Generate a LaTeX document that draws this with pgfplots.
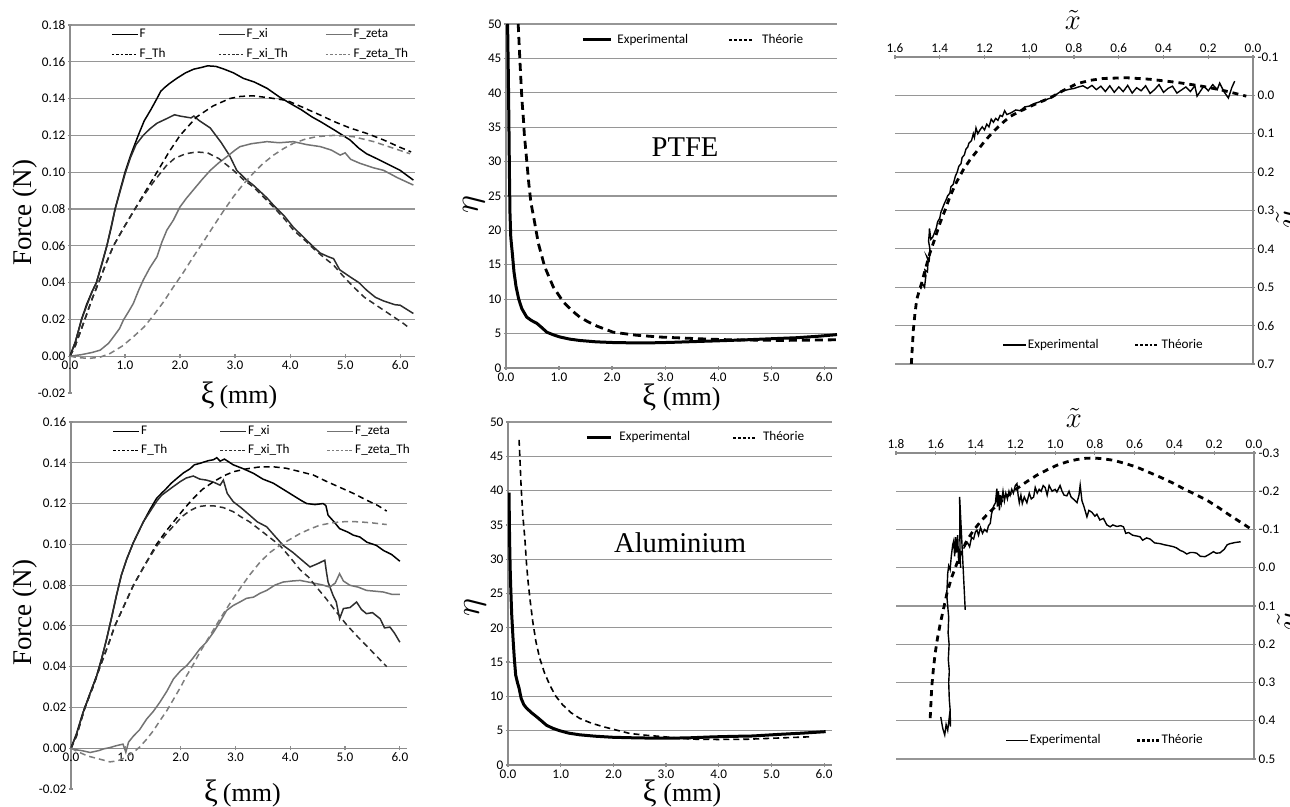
\documentclass[border=0pt]{standalone}
\usepackage{pgfplots}
\pgfplotsset{compat=1.18}
\usepackage{fontspec}
\setmainfont{Liberation Serif}
\newfontfamily\carlito{Carlito}
\newcommand\tickfont{\carlito\fontsize{6.6}{7.5}\selectfont}
\definecolor{axisgray}{RGB}{140,140,140}
\definecolor{gridgray}{RGB}{150,150,150}
\definecolor{xigray}{RGB}{45,45,45}
\definecolor{zetagray}{RGB}{115,115,115}
\definecolor{zetathgray}{RGB}{125,125,125}

\pgfplotsset{
  excel/.style={
    scale only axis, anchor=south west,
    axis line style={-, draw=axisgray, line width=0.6pt},
    ymajorgrids, grid style={draw=gridgray, line width=0.55pt},
    tick style={draw=axisgray, line width=0.6pt},
    major tick length=2.2pt, tick align=outside,
    ticklabel style={font=\tickfont, text=black, inner sep=1pt},
    /pgf/number format/assume math mode=true,
    hide obscured x ticks=false, hide obscured y ticks=false,
    legend style={draw=none, fill=none, font=\tickfont, inner sep=0pt, nodes={inner sep=0.5pt}},
    legend cell align=left,
    label style={font=\fontsize{13.5}{14}\selectfont},
  },
  noarrows/.style={
    every inner x axis line/.append style={-}, every outer x axis line/.append style={-},
    every inner y axis line/.append style={-}, every outer y axis line/.append style={-},
  },
  fmtx/.style={xticklabel style={/pgf/number format/fixed, /pgf/number format/fixed zerofill, /pgf/number format/precision=#1}},
  fmty/.style={yticklabel style={/pgf/number format/fixed, /pgf/number format/fixed zerofill, /pgf/number format/precision=#1}},
  leg/.style={legend image code/.code={\draw[##1] (0pt,0pt) -- (#1,0pt);}},
  dotleg/.style 2 args={legend image code/.code={\draw[##1,dash pattern=#2] (0pt,0pt) -- (#1,0pt);}},
}
\newcommand\ximm{{\fontsize{15.5}{15}\selectfont ξ}~{\fontsize{13}{13}\selectfont(mm)}}

\begin{document}
\begin{tikzpicture}
\useasboundingbox (0pt,0pt) rectangle (645pt,403.5pt);

% ---------------- top left: forces, PTFE
\begin{axis}[excel, at={(35pt,207pt)}, width=172.5pt, height=184pt,
  xmin=0, xmax=6.27, ymin=-0.02, ymax=0.18,
  axis x line=middle, axis y line=left, noarrows,
  xtick={0,1,2,3,4,5,6}, ytick={0,0.02,0.04,0.06,0.08,0.10,0.12,0.14,0.16,0.18},
  extra y ticks={-0.02}, extra y tick labels={-0.02}, extra y tick style={grid=none},
  fmtx=1, fmty=2,
  xlabel={\ximm}, ylabel={Force (N)},
  xlabel style={at={(axis description cs:0.49,-0.008)}, anchor=center},
  ylabel style={at={(axis description cs:-0.13,0.49)}, anchor=center},
  legend columns=3, legend style={at={(axis description cs:0.118,0.995)}, anchor=north west, row sep=3pt},
]
\addplot[black, line width=0.75pt, leg=13pt] coordinates {
(0,0) (0.1,0.008) (0.21,0.020) (0.3,0.028) (0.4,0.035) (0.48,0.040) (0.58,0.050) (0.67,0.060)
(0.75,0.070) (0.82,0.080) (0.9,0.089) (1.0,0.100) (1.1,0.109) (1.24,0.120) (1.35,0.128) (1.47,0.134)
(1.58,0.140) (1.65,0.144) (1.72,0.146) (1.8,0.148) (1.94,0.151) (2.1,0.154) (2.25,0.156) (2.4,0.157)
(2.5,0.1578) (2.65,0.1575) (2.8,0.156) (2.97,0.154) (3.15,0.151) (3.35,0.149) (3.58,0.1456) (3.8,0.141)
(4.0,0.1374) (4.2,0.134) (4.4,0.130) (4.55,0.1275) (4.8,0.123) (5.09,0.1175) (5.25,0.113) (5.39,0.110)
(5.6,0.107) (5.8,0.104) (6.0,0.101) (6.24,0.0957)};
\addlegendentry{\makebox[38.75pt][l]{F}}
\addplot[xigray, line width=0.75pt, leg=13pt] coordinates {
(0,0) (0.1,0.008) (0.21,0.020) (0.4,0.035) (0.48,0.040) (0.67,0.060) (0.82,0.080) (1.0,0.099)
(1.1,0.108) (1.2,0.115) (1.33,0.120) (1.45,0.1235) (1.58,0.1266) (1.75,0.129) (1.9,0.1312) (2.0,0.1305)
(2.1,0.130) (2.2,0.1295) (2.25,0.1305) (2.35,0.128) (2.55,0.124) (2.75,0.116) (2.9,0.109) (3.03,0.101)
(3.2,0.096) (3.33,0.093) (3.58,0.086) (3.7,0.082) (3.9,0.076) (4.06,0.070) (4.25,0.0645) (4.42,0.0595)
(4.55,0.056) (4.7,0.054) (4.79,0.053) (4.9,0.047) (5.09,0.0431) (5.25,0.040) (5.39,0.0359) (5.55,0.032)
(5.7,0.030) (5.9,0.028) (6.0,0.0277) (6.24,0.0232)};
\addlegendentry{\makebox[38.75pt][l]{F\_xi}}
\addplot[zetagray, line width=0.75pt, leg=13pt] coordinates {
(0,0) (0.2,0.0008) (0.4,0.002) (0.55,0.0033) (0.7,0.007) (0.79,0.0105) (0.9,0.015) (0.97,0.0196)
(1.06,0.024) (1.15,0.0286) (1.25,0.036) (1.33,0.0413) (1.45,0.048) (1.58,0.054) (1.67,0.062) (1.76,0.0685)
(1.88,0.074) (2.0,0.0812) (2.12,0.086) (2.24,0.0903) (2.4,0.096) (2.55,0.101) (2.7,0.105) (2.85,0.1084)
(3.0,0.112) (3.09,0.1139) (3.3,0.1155) (3.58,0.1166) (3.8,0.116) (4.06,0.1166) (4.3,0.115) (4.55,0.1139)
(4.75,0.112) (4.91,0.1093) (5.0,0.1105) (5.1,0.107) (5.27,0.1048) (5.5,0.1025) (5.7,0.101) (5.95,0.097)
(6.24,0.093)};
\addlegendentry{\makebox[38.75pt][l]{F\_zeta}}
\addplot[black, line width=0.75pt, dash pattern=on 3pt off 2pt, dotleg={13pt}{on 1.3pt off 0.9pt}] coordinates {
(0,0) (0.1,0.006) (0.27,0.020) (0.4,0.031) (0.52,0.040) (0.65,0.050) (0.79,0.060) (0.98,0.070)
(1.18,0.080) (1.38,0.090) (1.58,0.100) (1.8,0.111) (2.0,0.120) (2.3,0.130) (2.6,0.136) (2.9,0.140)
(3.1,0.1412) (3.33,0.1415) (3.6,0.1405) (3.94,0.139) (4.25,0.135) (4.55,0.131) (4.8,0.1275) (5.09,0.124)
(5.4,0.121) (5.7,0.1175) (6.0,0.1135) (6.2,0.111)};
\addlegendentry{\makebox[38.75pt][l]{F\_Th}}
\addplot[xigray, line width=0.75pt, dash pattern=on 3pt off 2pt, dotleg={13pt}{on 1.3pt off 0.9pt}] coordinates {
(0,0) (0.1,0.006) (0.27,0.020) (0.4,0.031) (0.52,0.040) (0.65,0.050) (0.79,0.060) (0.98,0.070)
(1.18,0.080) (1.38,0.089) (1.55,0.096) (1.75,0.1035) (1.9,0.1075) (2.1,0.110) (2.3,0.111) (2.5,0.1105)
(2.7,0.1075) (2.97,0.101) (3.15,0.096) (3.33,0.092) (3.5,0.087) (3.7,0.081) (3.9,0.0745) (4.06,0.0685)
(4.25,0.0635) (4.42,0.0586) (4.6,0.054) (4.79,0.0495) (4.95,0.044) (5.15,0.0377) (5.35,0.032) (5.52,0.0286)
(5.7,0.025) (5.88,0.0214) (6.05,0.018) (6.18,0.015)};
\addlegendentry{\makebox[38.75pt][l]{F\_xi\_Th}}
\addplot[zetathgray, line width=0.75pt, dash pattern=on 3pt off 2pt, dotleg={13pt}{on 1.3pt off 0.9pt}] coordinates {
(0,0) (0.15,-0.0008) (0.35,-0.0012) (0.55,-0.0005) (0.73,0.0015) (0.95,0.0055) (1.15,0.0105) (1.35,0.016)
(1.52,0.0223) (1.7,0.0295) (1.88,0.0377) (2.06,0.0455) (2.24,0.054) (2.42,0.062) (2.6,0.0703) (2.78,0.0785)
(2.97,0.0867) (3.15,0.0935) (3.33,0.0994) (3.5,0.1045) (3.7,0.1093) (3.88,0.1128) (4.06,0.1157) (4.28,0.118)
(4.48,0.1193) (4.79,0.120) (5.15,0.1193) (5.52,0.1166) (5.88,0.113) (6.18,0.110)};
\addlegendentry{\makebox[38.75pt][l]{F\_zeta\_Th}}
\end{axis}

% ---------------- bottom left: forces, aluminium
\begin{axis}[excel, at={(35.5pt,9pt)}, width=168pt, height=183.5pt,
  xmin=0, xmax=6.13, ymin=-0.02, ymax=0.16,
  axis x line=middle, axis y line=left, noarrows,
  xtick={0,1,2,3,4,5,6}, ytick={0,0.02,0.04,0.06,0.08,0.10,0.12,0.14,0.16},
  extra y ticks={-0.02}, extra y tick labels={-0.02}, extra y tick style={grid=none},
  fmtx=1, fmty=2,
  xlabel={\ximm}, ylabel={Force (N)},
  xlabel style={at={(axis description cs:0.51,-0.012)}, anchor=center},
  ylabel style={at={(axis description cs:-0.137,0.48)}, anchor=center},
  legend columns=3, legend style={at={(axis description cs:0.123,0.995)}, anchor=north west, row sep=2.5pt},
]
\addplot[black, line width=0.75pt, leg=13pt] coordinates {
(0,0) (0.1,0.007) (0.22,0.0175) (0.35,0.027) (0.47,0.0356) (0.56,0.044) (0.65,0.0536) (0.74,0.064)
(0.83,0.075) (0.92,0.085) (1.02,0.093) (1.14,0.101) (1.23,0.106) (1.32,0.111) (1.44,0.117) (1.56,0.1225)
(1.65,0.125) (1.74,0.1274) (1.83,0.130) (1.93,0.1323) (2.05,0.135) (2.17,0.137) (2.25,0.139) (2.35,0.1397)
(2.5,0.141) (2.6,0.1415) (2.66,0.1425) (2.72,0.1408) (2.8,0.1418) (2.96,0.139) (3.15,0.137) (3.33,0.1348)
(3.5,0.132) (3.69,0.130) (3.87,0.127) (4.05,0.124) (4.2,0.1215) (4.3,0.120) (4.45,0.1195) (4.6,0.120)
(4.65,0.119) (4.69,0.1143) (4.8,0.111) (4.9,0.1077) (5.05,0.106) (5.15,0.1045) (5.27,0.1036) (5.4,0.101)
(5.57,0.0995) (5.7,0.097) (5.85,0.095) (6.0,0.0917)};
\addlegendentry{\makebox[38.75pt][l]{F}}
\addplot[xigray, line width=0.75pt, leg=13pt] coordinates {
(0,0) (0.1,0.007) (0.22,0.0175) (0.35,0.027) (0.47,0.0356) (0.56,0.044) (0.65,0.0536) (0.74,0.064)
(0.83,0.075) (0.92,0.085) (1.02,0.093) (1.14,0.101) (1.23,0.106) (1.32,0.111) (1.44,0.116) (1.56,0.121)
(1.65,0.124) (1.74,0.1258) (1.85,0.128) (1.99,0.1307) (2.1,0.1325) (2.23,0.1335) (2.35,0.132) (2.47,0.1315)
(2.6,0.1305) (2.72,0.129) (2.78,0.1315) (2.85,0.125) (2.96,0.1209) (3.1,0.118) (3.26,0.1143) (3.4,0.111)
(3.57,0.1086) (3.72,0.104) (3.87,0.0995) (4.05,0.096) (4.18,0.093) (4.36,0.0889) (4.5,0.0905) (4.63,0.0922)
(4.66,0.0865) (4.69,0.0815) (4.78,0.075) (4.84,0.0717) (4.9,0.0635) (4.97,0.0685) (5.09,0.069) (5.21,0.0717)
(5.3,0.068) (5.39,0.066) (5.5,0.0665) (5.64,0.0635) (5.72,0.059) (5.82,0.0594) (5.9,0.0565) (6.0,0.052)};
\addlegendentry{\makebox[38.75pt][l]{F\_xi}}
\addplot[zetagray, line width=0.75pt, leg=13pt] coordinates {
(0,0) (0.1,-0.0008) (0.2,-0.0012) (0.35,-0.0021) (0.5,-0.0012) (0.6,-0.0003) (0.71,0.0003) (0.82,0.0012)
(0.95,0.002) (1.0,-0.002) (1.05,0.003) (1.14,0.006) (1.25,0.009) (1.38,0.0143) (1.5,0.018) (1.62,0.0225)
(1.75,0.028) (1.87,0.034) (2.0,0.038) (2.11,0.0405) (2.22,0.044) (2.35,0.0487) (2.47,0.052) (2.6,0.0569)
(2.72,0.062) (2.84,0.0676) (2.96,0.070) (3.08,0.0717) (3.2,0.0735) (3.33,0.0741) (3.45,0.076) (3.57,0.0774)
(3.72,0.080) (3.87,0.0815) (4.03,0.082) (4.18,0.0823) (4.33,0.0815) (4.48,0.0807) (4.6,0.080) (4.72,0.079)
(4.82,0.081) (4.9,0.0856) (4.97,0.082) (5.09,0.0799) (5.24,0.079) (5.39,0.0774) (5.55,0.077) (5.7,0.0766)
(5.85,0.0755) (6.0,0.0754)};
\addlegendentry{\makebox[38.75pt][l]{F\_zeta}}
\addplot[black, line width=0.75pt, dash pattern=on 3pt off 2pt, dotleg={13pt}{on 1.3pt off 0.9pt}] coordinates {
(0,0) (0.1,0.006) (0.255,0.020) (0.4,0.030) (0.53,0.040) (0.67,0.050) (0.8,0.060) (0.97,0.070)
(1.14,0.080) (1.35,0.090) (1.56,0.100) (1.72,0.106) (1.87,0.111) (2.05,0.117) (2.23,0.1225) (2.4,0.127)
(2.6,0.1307) (2.78,0.1335) (2.96,0.1356) (3.2,0.137) (3.45,0.138) (3.7,0.138) (3.93,0.1373) (4.2,0.1355)
(4.42,0.134) (4.65,0.131) (4.9,0.128) (5.15,0.125) (5.39,0.1217) (5.6,0.119) (5.76,0.1163)};
\addlegendentry{\makebox[38.75pt][l]{F\_Th}}
\addplot[xigray, line width=0.75pt, dash pattern=on 3pt off 2pt, dotleg={13pt}{on 1.3pt off 0.9pt}] coordinates {
(0,0) (0.1,0.006) (0.255,0.020) (0.4,0.030) (0.53,0.040) (0.67,0.050) (0.8,0.060) (0.97,0.070)
(1.14,0.080) (1.35,0.090) (1.56,0.099) (1.72,0.1045) (1.87,0.109) (2.02,0.1135) (2.17,0.1165) (2.32,0.1185)
(2.47,0.119) (2.62,0.1188) (2.78,0.118) (2.96,0.116) (3.1,0.1135) (3.26,0.111) (3.5,0.106) (3.81,0.0995)
(4.0,0.0935) (4.18,0.0875) (4.33,0.084) (4.48,0.079) (4.65,0.0735) (4.85,0.0665) (5.03,0.0605) (5.2,0.0555)
(5.4,0.050) (5.58,0.045) (5.76,0.040)};
\addlegendentry{\makebox[38.75pt][l]{F\_xi\_Th}}
\addplot[zetathgray, line width=0.75pt, dash pattern=on 3pt off 2pt, dotleg={13pt}{on 1.3pt off 0.9pt}] coordinates {
(0,0) (0.15,-0.002) (0.3,-0.0038) (0.53,-0.0054) (0.71,-0.0067) (0.85,-0.0062) (0.95,-0.0051) (1.05,-0.0035)
(1.14,-0.002) (1.25,0.0005) (1.38,0.0044) (1.5,0.0085) (1.62,0.0134) (1.75,0.0185) (1.87,0.024) (2.0,0.030)
(2.11,0.0356) (2.23,0.041) (2.35,0.047) (2.53,0.055) (2.72,0.0635) (2.9,0.071) (3.08,0.0782) (3.26,0.085)
(3.45,0.0913) (3.63,0.096) (3.81,0.0995) (4.0,0.1025) (4.18,0.1053) (4.36,0.1075) (4.54,0.1094) (4.72,0.1103)
(4.9,0.111) (5.1,0.1112) (5.27,0.111) (5.5,0.1105) (5.76,0.1097)};
\addlegendentry{\makebox[38.75pt][l]{F\_zeta\_Th}}
\end{axis}

% ---------------- top middle: eta, PTFE
\begin{axis}[excel, at={(253pt,219.5pt)}, width=165.5pt, height=172pt,
  xmin=0, xmax=6.24, ymin=0, ymax=50,
  axis x line=bottom, axis y line=left, noarrows,
  xtick={0,1,2,3,4,5,6}, ytick={0,5,...,50}, fmtx=1,
  xlabel={\ximm}, ylabel={\fontsize{17}{17}\selectfont$\eta$},
  xlabel style={at={(axis description cs:0.53,-0.087)}, anchor=center},
  ylabel style={at={(axis description cs:-0.097,0.474)}, anchor=center},
  legend columns=2, legend style={at={(axis description cs:0.2266,0.9535)}, anchor=west},
]
\addplot[black, line width=1.5pt, leg=14pt] coordinates {
(0.03,50) (0.045,42) (0.057,34) (0.065,28) (0.075,22.5) (0.09,19) (0.12,16.6) (0.15,14) (0.19,11.8)
(0.24,10) (0.3,8.6) (0.39,7.4) (0.48,6.9) (0.58,6.5) (0.67,5.9) (0.77,5.2) (0.9,4.8) (1.02,4.5)
(1.2,4.2) (1.39,4.0) (1.7,3.8) (2.02,3.7) (2.4,3.65) (2.65,3.64) (3.1,3.72) (3.59,3.85) (4.0,3.95)
(4.54,4.1) (5.0,4.25) (5.48,4.4) (5.9,4.62) (6.24,4.85)};
\addlegendentry{\makebox[56.5pt][l]{\hspace{2pt}Experimental}}
\addplot[black, line width=1.4pt, dash pattern=on 4pt off 2.5pt, dotleg={12.5pt}{on 1.5pt off 1pt}] coordinates {
(0.23,50) (0.26,45) (0.3,39) (0.33,36) (0.345,34) (0.43,26.8) (0.47,24) (0.52,22) (0.61,18.1)
(0.73,14.7) (0.89,11.8) (1.08,9.6) (1.25,8.3) (1.39,7.4) (1.55,6.7) (1.71,6.1) (2.02,5.2) (2.46,4.76)
(2.9,4.5) (3.28,4.37) (3.8,4.2) (4.22,4.1) (4.7,4.05) (5.16,4.0) (5.7,4.05) (6.24,4.1)};
\addlegendentry{\hspace{3pt}Théorie}
\node[font=\fontsize{14.3}{15}\selectfont] at (axis description cs:0.541,0.642) {PTFE};
\end{axis}

% ---------------- bottom middle: eta, aluminium
\begin{axis}[excel, at={(254pt,21pt)}, width=162pt, height=171.5pt,
  xmin=0, xmax=6.15, ymin=0, ymax=50,
  axis x line=bottom, axis y line=left, noarrows,
  xtick={0,1,2,3,4,5,6}, ytick={0,5,...,50}, fmtx=1,
  xlabel={\ximm}, ylabel={\fontsize{17}{17}\selectfont$\eta$},
  xlabel style={at={(axis description cs:0.537,-0.082)}, anchor=center},
  ylabel style={at={(axis description cs:-0.102,0.46)}, anchor=center},
  legend columns=2, legend style={at={(axis description cs:0.2377,0.954)}, anchor=west},
]
\addplot[black, line width=1.5pt, leg=12pt] coordinates {
(0.02,39.7) (0.025,36) (0.03,33) (0.04,29) (0.05,26.3) (0.07,22) (0.095,18.5) (0.12,15.5) (0.146,13.1)
(0.18,12) (0.21,11.2) (0.25,9.7) (0.3,8.8) (0.35,8.3) (0.45,7.6) (0.54,7.05) (0.64,6.4) (0.73,5.8)
(0.85,5.35) (0.98,5.0) (1.15,4.65) (1.36,4.4) (1.65,4.2) (1.99,4.04) (2.45,3.95) (2.94,3.9) (3.4,3.95)
(3.89,4.1) (4.3,4.18) (4.65,4.23) (5.16,4.47) (5.6,4.65) (6.03,4.86)};
\addlegendentry{\makebox[59pt][l]{\hspace{3pt}Experimental}}
\addplot[black, line width=0.8pt, dash pattern=on 3pt off 2pt, dotleg={11.5pt}{on 1.4pt off 1pt}] coordinates {
(0.21,47.4) (0.23,44) (0.25,40.4) (0.28,36.5) (0.32,33) (0.35,29.5) (0.38,26.8) (0.42,24) (0.47,20.9)
(0.53,18) (0.6,15.6) (0.69,13.5) (0.79,11.7) (0.9,10.1) (1.04,8.75) (1.2,7.6) (1.36,6.8) (1.58,6.1)
(1.8,5.6) (2.05,5.1) (2.31,4.6) (2.6,4.35) (2.94,4.13) (3.25,3.9) (3.58,3.75) (4.0,3.72) (4.53,3.75)
(5.16,3.94) (5.79,4.13)};
\addlegendentry{\hspace{2.5pt}Théorie}
\node[font=\fontsize{14.3}{15}\selectfont] at (axis description cs:0.531,0.647) {Aluminium};
\end{axis}

% ---------------- top right: trajectory, PTFE
\begin{axis}[excel, at={(447.5pt,221.5pt)}, width=179pt, height=153.5pt,
  xmin=0, xmax=1.6, ymin=-0.1, ymax=0.7, x dir=reverse, y dir=reverse,
  axis x line=top, axis y line=right, noarrows,
  xtick={0,0.2,0.4,0.6,0.8,1.0,1.2,1.4,1.6}, ytick={-0.1,0,0.1,0.2,0.3,0.4,0.5,0.6,0.7},
  fmtx=1, fmty=1,
  xlabel={\fontsize{15}{15}\selectfont$\tilde{x}$}, ylabel={\fontsize{16}{16}\selectfont$\tilde{y}$},
  xlabel style={at={(axis description cs:0.497,1.12)}, anchor=center},
  ylabel style={at={(axis description cs:1.105,0.47)}, anchor=center},
  legend columns=2, legend style={at={(axis description cs:0.299,0.0619)}, anchor=west},
]
\addplot[black, line width=0.7pt, leg=11.5pt] coordinates {
(1.485,0.505) (1.478,0.49) (1.468,0.50) (1.462,0.47) (1.466,0.455) (1.455,0.46) (1.452,0.43) (1.458,0.42)
(1.447,0.43) (1.444,0.40) (1.45,0.38) (1.447,0.36) (1.446,0.347) (1.44,0.375) (1.432,0.37) (1.425,0.36)
(1.415,0.345) (1.41,0.33) (1.40,0.32) (1.395,0.305) (1.385,0.29) (1.378,0.28) (1.37,0.27) (1.365,0.262)
(1.355,0.255) (1.35,0.238) (1.34,0.232) (1.33,0.21) (1.322,0.20) (1.315,0.185) (1.305,0.178) (1.30,0.162)
(1.29,0.155) (1.283,0.14) (1.275,0.135) (1.27,0.125) (1.258,0.118) (1.25,0.10) (1.245,0.11) (1.238,0.085)
(1.23,0.10) (1.22,0.09) (1.21,0.082) (1.2,0.09) (1.19,0.075) (1.18,0.082) (1.17,0.062) (1.16,0.07)
(1.15,0.06) (1.14,0.065) (1.13,0.052) (1.12,0.055) (1.11,0.04) (1.1,0.05) (1.08,0.045) (1.06,0.038)
(1.04,0.04) (1.02,0.03) (1.0,0.028) (0.98,0.022) (0.96,0.018) (0.94,0.014) (0.92,0.01) (0.9,0.006)
(0.88,-0.002) (0.86,-0.01) (0.84,-0.013) (0.82,-0.016) (0.80,-0.018) (0.78,-0.022) (0.76,-0.025) (0.74,-0.018)
(0.72,-0.026) (0.70,-0.015) (0.68,-0.024) (0.66,-0.010) (0.64,-0.025) (0.62,-0.008) (0.60,-0.022) (0.58,-0.01)
(0.56,-0.026) (0.54,-0.006) (0.52,-0.02) (0.50,-0.012) (0.48,-0.025) (0.46,-0.005) (0.44,-0.015) (0.42,-0.028)
(0.40,-0.008) (0.38,-0.018) (0.36,-0.024) (0.34,-0.006) (0.32,-0.014) (0.30,-0.022) (0.28,-0.01) (0.26,-0.025)
(0.25,0.002) (0.22,-0.024) (0.20,-0.012) (0.18,-0.028) (0.16,-0.015) (0.149,-0.032) (0.13,-0.01) (0.11,0.007)
(0.095,-0.02) (0.082,-0.037)};
\addlegendentry{\makebox[52.5pt][l]{Experimental}}
\addplot[black, line width=1.4pt, dash pattern=on 3pt off 2.5pt, dotleg={11pt}{on 1.4pt off 1pt}] coordinates {
(1.527,0.70) (1.522,0.65) (1.518,0.611) (1.511,0.57) (1.503,0.532) (1.492,0.51) (1.481,0.489) (1.463,0.45)
(1.444,0.411) (1.42,0.37) (1.399,0.333) (1.375,0.297) (1.354,0.263) (1.325,0.226) (1.295,0.194) (1.265,0.168)
(1.235,0.146) (1.2,0.12) (1.16,0.094) (1.12,0.072) (1.086,0.055) (1.04,0.041) (0.997,0.029) (0.95,0.017)
(0.908,0.007) (0.85,-0.012) (0.789,-0.030) (0.73,-0.039) (0.67,-0.044) (0.566,-0.046) (0.461,-0.042)
(0.342,-0.034) (0.238,-0.025) (0.134,-0.013) (0.03,0.002)};
\addlegendentry{\hspace{1pt}Théorie}
\end{axis}

% ---------------- bottom right: trajectory, aluminium
\begin{axis}[excel, at={(448pt,24pt)}, width=179pt, height=153pt,
  xmin=0, xmax=1.8, ymin=-0.3, ymax=0.5, x dir=reverse, y dir=reverse,
  axis x line=top, axis y line=right, noarrows,
  xtick={0,0.2,0.4,0.6,0.8,1.0,1.2,1.4,1.6,1.8}, ytick={-0.3,-0.2,-0.1,0,0.1,0.2,0.3,0.4,0.5},
  fmtx=1, fmty=1,
  xlabel={\fontsize{15}{15}\selectfont$\tilde{x}$}, ylabel={\fontsize{16}{16}\selectfont$\tilde{y}$},
  xlabel style={at={(axis description cs:0.497,1.114)}, anchor=center},
  ylabel style={at={(axis description cs:1.105,0.45)}, anchor=center},
  legend columns=2, legend style={at={(axis description cs:0.3045,0.0598)}, anchor=west},
]
\addplot[black, line width=0.7pt, leg=11pt] coordinates {
(1.575,0.39) (1.565,0.42) (1.555,0.437) (1.548,0.41) (1.54,0.425) (1.532,0.39) (1.526,0.415) (1.528,0.37)
(1.532,0.345) (1.535,0.30) (1.532,0.27) (1.537,0.24) (1.533,0.20) (1.538,0.17) (1.535,0.13) (1.54,0.10)
(1.545,0.07) (1.542,0.04) (1.54,0.015) (1.535,-0.005) (1.528,0.005) (1.522,-0.03) (1.515,-0.06) (1.51,-0.07)
(1.505,-0.03) (1.50,-0.08) (1.495,-0.04) (1.49,-0.085) (1.485,-0.01) (1.48,-0.05) (1.475,0.0) (1.478,-0.03)
(1.48,-0.185) (1.452,0.11)};
\addlegendentry{\makebox[52.5pt][l]{Experimental}}
\addplot[black, line width=0.7pt, forget plot] coordinates {
(1.46,-0.05) (1.45,-0.06) (1.44,-0.065) (1.43,-0.055) (1.42,-0.08) (1.41,-0.075) (1.40,-0.095) (1.393,-0.098)
(1.385,-0.085) (1.375,-0.105) (1.365,-0.09) (1.355,-0.1) (1.343,-0.094) (1.335,-0.11) (1.326,-0.116) (1.32,-0.14)
(1.31,-0.16) (1.30,-0.17) (1.293,-0.207) (1.29,-0.16) (1.285,-0.2) (1.28,-0.15) (1.275,-0.19) (1.27,-0.17)
(1.262,-0.2) (1.255,-0.175) (1.248,-0.195) (1.24,-0.18) (1.232,-0.2) (1.226,-0.19) (1.218,-0.205) (1.21,-0.195)
(1.2,-0.215) (1.192,-0.22) (1.186,-0.19) (1.18,-0.17) (1.172,-0.19) (1.165,-0.168) (1.155,-0.185) (1.142,-0.17)
(1.13,-0.195) (1.12,-0.18) (1.108,-0.185) (1.1,-0.21) (1.09,-0.195) (1.08,-0.205) (1.07,-0.2) (1.06,-0.215)
(1.05,-0.21) (1.04,-0.19) (1.03,-0.215) (1.015,-0.2) (1.0,-0.205) (0.991,-0.198) (0.975,-0.215) (0.965,-0.2)
(0.955,-0.19) (0.941,-0.188) (0.93,-0.2) (0.92,-0.185) (0.905,-0.178) (0.89,-0.17) (0.88,-0.19) (0.874,-0.216)
(0.865,-0.175) (0.855,-0.16) (0.84,-0.133) (0.83,-0.15) (0.815,-0.145) (0.8,-0.135) (0.79,-0.14) (0.775,-0.125)
(0.757,-0.129) (0.74,-0.112) (0.723,-0.107) (0.71,-0.112) (0.69,-0.108) (0.67,-0.11) (0.656,-0.107) (0.645,-0.09)
(0.63,-0.092) (0.61,-0.085) (0.59,-0.083) (0.573,-0.081) (0.56,-0.072) (0.54,-0.078) (0.522,-0.075) (0.5,-0.065)
(0.472,-0.063) (0.45,-0.06) (0.43,-0.058) (0.405,-0.055) (0.39,-0.052) (0.37,-0.045) (0.355,-0.042) (0.338,-0.036)
(0.32,-0.04) (0.305,-0.04) (0.288,-0.038) (0.27,-0.03) (0.246,-0.029) (0.225,-0.035) (0.204,-0.042) (0.19,-0.038)
(0.171,-0.039) (0.15,-0.048) (0.135,-0.06) (0.121,-0.063) (0.095,-0.066) (0.067,-0.068)};
\addplot[black, line width=1.4pt, dash pattern=on 3pt off 2.5pt, dotleg={11pt}{on 1.4pt off 1pt}] coordinates {
(1.628,0.393) (1.624,0.35) (1.62,0.31) (1.612,0.265) (1.603,0.223) (1.59,0.18) (1.577,0.145) (1.56,0.105)
(1.544,0.067) (1.52,0.025) (1.494,-0.011) (1.47,-0.043) (1.443,-0.072) (1.41,-0.098) (1.376,-0.12) (1.335,-0.143)
(1.293,-0.163) (1.245,-0.186) (1.192,-0.207) (1.14,-0.226) (1.092,-0.242) (1.04,-0.256) (0.991,-0.268)
(0.94,-0.277) (0.891,-0.283) (0.85,-0.286) (0.807,-0.287) (0.76,-0.285) (0.707,-0.281) (0.65,-0.273)
(0.589,-0.263) (0.53,-0.25) (0.472,-0.237) (0.41,-0.222) (0.355,-0.207) (0.3,-0.193) (0.238,-0.177)
(0.18,-0.158) (0.121,-0.137) (0.07,-0.12) (0.02,-0.103)};
\addlegendentry{Théorie}
\end{axis}
\end{tikzpicture}
\end{document}
